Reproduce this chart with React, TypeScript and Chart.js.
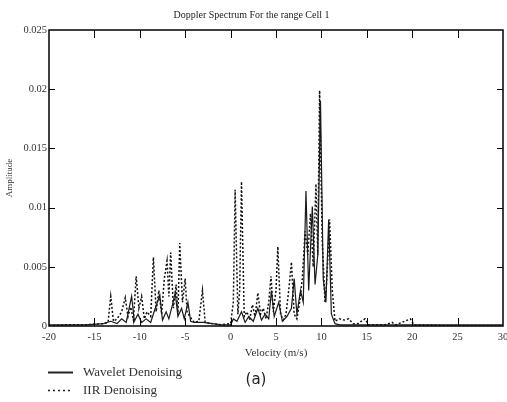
import React, { useEffect, useRef } from "react";
import { Chart, registerables } from "chart.js";

Chart.register(...registerables);

const TITLE = "Doppler Spectrum For the range Cell 1";
const X_LABEL = "Velocity (m/s)";
const Y_LABEL = "Amplitude";
const SERIES_NAMES = ["Wavelet Denoising", "IIR Denoising"];
const PANEL_TAG = "(a)";

const X_TICKS = [-20, -15, -10, -5, 0, 5, 10, 15, 20, 25, 30];
const Y_TICKS = [0, 0.005, 0.01, 0.015, 0.02, 0.025];

const waveletVelocity = [
  -20, -16, -14, -13.2, -12.5, -12, -11.5, -10.9, -10.6, -10.2,
  -9.8, -9.3, -8.8, -8.3, -7.8, -7.5, -7.1, -6.8, -6.4, -6.1,
  -5.8, -5.4, -5.1, -4.7, -4.4, -4, -3, -2, -1, 0,
  0.3, 0.7, 1.2, 1.6, 2.0, 2.5, 3.0, 3.4, 3.8, 4.2,
  4.5, 4.8, 5.3, 5.7, 6.2, 6.7, 7.0, 7.3, 7.7, 8.0,
  8.3, 8.6, 9.0, 9.3, 9.6, 9.9, 10.2, 10.5, 10.8, 11.1,
  11.5, 12, 14, 20, 25, 30,
];
const waveletAmplitude = [
  0.0001, 0.0001, 0.0002, 0.0004, 0.0002, 0.0006, 0.0003, 0.0025, 0.0004, 0.001,
  0.0003, 0.0006, 0.0003, 0.0015, 0.0026, 0.0005, 0.0012, 0.0006, 0.0018, 0.0028,
  0.0008, 0.0015, 0.0006, 0.002, 0.0004, 0.0003, 0.0003, 0.0002, 0.0001, 0.0001,
  0.0006, 0.0004, 0.0012, 0.0003, 0.0008, 0.0004, 0.0015, 0.0005, 0.001, 0.0006,
  0.003, 0.0008, 0.002, 0.0004, 0.0008, 0.0015, 0.004, 0.001, 0.003, 0.002,
  0.0114, 0.003, 0.0101, 0.0035, 0.006, 0.019, 0.004, 0.002, 0.009, 0.001,
  0.0002, 0.0001, 0.0001, 0.0001, 0.0001, 0.0001,
];

const iirVelocity = [
  -20, -18, -16, -14, -13.5, -13.2, -12.9, -12.5, -12.0, -11.6,
  -11.3, -11.0, -10.7, -10.4, -10.1, -9.8, -9.5, -9.2, -8.8, -8.5,
  -8.2, -7.9, -7.6, -7.3, -7.0, -6.8, -6.6, -6.3, -6.0, -5.8,
  -5.6, -5.3, -5.0, -4.8, -4.5, -4.0, -3.5, -3.1, -2.8, -2.0,
  -1.0, 0.0, 0.3, 0.5, 0.8, 1.0, 1.2, 1.5, 1.8, 2.1,
  2.4, 2.7, 3.0, 3.3, 3.6, 3.9, 4.2, 4.45, 4.7, 5.0,
  5.2, 5.5, 5.8, 6.1, 6.4, 6.7, 7.0, 7.3, 7.6, 7.9,
  8.2, 8.5, 8.8, 9.1, 9.4, 9.6, 9.8, 10.1, 10.4, 10.6,
  10.9, 11.2, 11.5, 12.0, 12.5, 13.0, 13.5, 14.0, 14.8, 15.2,
  17.0, 17.8, 18.2, 19.8, 20.2, 25, 30,
];
const iirAmplitude = [
  0, 0.0001, 0.0001, 0.0002, 0.0003, 0.0025, 0.0004, 0.0006, 0.0012, 0.0024,
  0.0008, 0.0016, 0.0005, 0.0042, 0.0015, 0.0025, 0.0006, 0.0012, 0.0008, 0.0058,
  0.0012, 0.003, 0.001, 0.004, 0.0055, 0.0025, 0.0062, 0.0015, 0.0035, 0.001,
  0.007, 0.002, 0.004, 0.0012, 0.0008, 0.0003, 0.0004, 0.003, 0.0003, 0.0002,
  0.0001, 0.0002, 0.002, 0.0115, 0.001, 0.003, 0.0122, 0.0008, 0.0012, 0.0005,
  0.0018, 0.0008, 0.0028, 0.001, 0.0015, 0.0006, 0.002, 0.0042, 0.0012, 0.003,
  0.0067, 0.001, 0.0005, 0.001, 0.003, 0.0054, 0.001, 0.0006, 0.002, 0.004,
  0.008, 0.006, 0.0095, 0.005, 0.012, 0.006, 0.0199, 0.007, 0.002, 0.004,
  0.009, 0.003, 0.0004, 0.0006, 0.0005, 0.0006, 0.0002, 0.0002, 0.0006, 0.0001,
  0.0001, 0.0003, 0.0001, 0.0006, 0.0001, 0, 0,
];

const SERIF = "'Liberation Serif', 'Times New Roman', serif";
const TEXT_COLOR = "#333";

const framePlugin = {
  id: "frameTicks",
  afterDatasetsDraw(chart: any) {
    const { ctx, chartArea } = chart;
    const { left, right, top, bottom } = chartArea;
    const xs = chart.scales.x;
    const ys = chart.scales.y;
    ctx.save();
    ctx.strokeStyle = "#000";
    ctx.lineWidth = 1;
    ctx.beginPath();
    X_TICKS.forEach((v) => {
      const px = Math.round(xs.getPixelForValue(v)) + 0.5;
      if (v === X_TICKS[0] || v === X_TICKS[X_TICKS.length - 1]) return;
      ctx.moveTo(px, top);
      ctx.lineTo(px, top + 8);
      ctx.moveTo(px, bottom);
      ctx.lineTo(px, bottom - 8);
    });
    Y_TICKS.forEach((v) => {
      const py = Math.round(ys.getPixelForValue(v)) + 0.5;
      if (v === Y_TICKS[0] || v === Y_TICKS[Y_TICKS.length - 1]) return;
      ctx.moveTo(left, py);
      ctx.lineTo(left + 6, py);
      ctx.moveTo(right, py);
      ctx.lineTo(right - 6, py);
    });
    ctx.stroke();
    ctx.lineWidth = 1.5;
    ctx.strokeRect(left, top, right - left, bottom - top);
    ctx.restore();
  },
  afterDraw(chart: any) {
    const { ctx } = chart;
    ctx.save();
    const rows = [
      { y: 372, dash: [] as number[], width: 2 },
      { y: 390, dash: [2, 3], width: 1.5 },
    ];
    rows.forEach((r, i) => {
      ctx.strokeStyle = "#222";
      ctx.lineWidth = r.width;
      ctx.setLineDash(r.dash);
      ctx.beginPath();
      ctx.moveTo(48, r.y + 0.5);
      ctx.lineTo(73, r.y + 0.5);
      ctx.stroke();
      ctx.setLineDash([]);
      ctx.fillStyle = TEXT_COLOR;
      ctx.font = `13px ${SERIF}`;
      ctx.textAlign = "left";
      ctx.textBaseline = "middle";
      ctx.fillText(SERIES_NAMES[i], 83, r.y + 1);
    });
    ctx.fillStyle = "#222";
    ctx.font = "15px 'DejaVu Sans', sans-serif";
    ctx.textAlign = "center";
    ctx.textBaseline = "middle";
    ctx.fillText(PANEL_TAG, 256, 380);
    ctx.restore();
  },
};

export default function App() {
  const canvasRef = useRef<HTMLCanvasElement | null>(null);

  useEffect(() => {
    document.body.style.margin = "0";
    const canvas = canvasRef.current;
    if (!canvas) return;
    const chart = new Chart(canvas, {
      type: "line",
      data: {
        datasets: [
          {
            label: SERIES_NAMES[0],
            data: waveletVelocity.map((x, i) => ({ x, y: waveletAmplitude[i] })),
            borderColor: "#1a1a1a",
            borderWidth: 1.2,
            pointRadius: 0,
            tension: 0,
            fill: false,
          },
          {
            label: SERIES_NAMES[1],
            data: iirVelocity.map((x, i) => ({ x, y: iirAmplitude[i] })),
            borderColor: "#111",
            borderWidth: 1.5,
            borderDash: [2, 2],
            pointRadius: 0,
            tension: 0,
            fill: false,
          },
        ],
      },
      options: {
        animation: false,
        responsive: false,
        maintainAspectRatio: false,
        layout: { padding: { left: 0, right: 4, top: 0, bottom: 0 } },
        plugins: {
          legend: { display: false },
          tooltip: { enabled: false },
          title: {
            display: true,
            text: TITLE,
            color: "#222",
            font: { family: SERIF, size: 10, weight: "normal" },
            padding: { top: 9, bottom: 9 },
          },
        },
        scales: {
          x: {
            type: "linear",
            min: -20,
            max: 30,
            afterBuildTicks: (s: any) => {
              s.ticks = X_TICKS.map((v) => ({ value: v }));
            },
            ticks: {
              color: TEXT_COLOR,
              font: { family: SERIF, size: 10.5 },
              padding: 5,
              maxRotation: 0,
              autoSkip: false,
            },
            grid: { display: false, drawTicks: false },
            border: { display: false },
            title: {
              display: true,
              text: X_LABEL,
              color: TEXT_COLOR,
              font: { family: SERIF, size: 11 },
              padding: { top: 0, bottom: 42 },
            },
            afterFit: (s: any) => {
              s.height = 76;
              s.paddingLeft = 0;
              s.paddingRight = 0;
            },
          },
          y: {
            type: "linear",
            min: 0,
            max: 0.025,
            afterBuildTicks: (s: any) => {
              s.ticks = Y_TICKS.map((v) => ({ value: v }));
            },
            ticks: {
              color: TEXT_COLOR,
              font: { family: SERIF, size: 10.5 },
              padding: 2,
              callback: (v: any) => String(Number(v)),
            },
            grid: { display: false, drawTicks: false },
            border: { display: false },
            title: {
              display: true,
              text: Y_LABEL,
              color: TEXT_COLOR,
              font: { family: SERIF, size: 9 },
              padding: { top: 4, bottom: 0 },
            },
            afterFit: (s: any) => {
              s.width = 49;
              s.paddingTop = 0;
              s.paddingBottom = 0;
            },
          },
        },
      },
      plugins: [framePlugin],
    });
    return () => chart.destroy();
  }, []);

  return (
    <div style={{ position: "absolute", left: 0, top: 0, width: 507, height: 402, background: "#fff" }}>
      <canvas ref={canvasRef} width={507} height={402} style={{ width: 507, height: 402, display: "block" }} />
    </div>
  );
}
